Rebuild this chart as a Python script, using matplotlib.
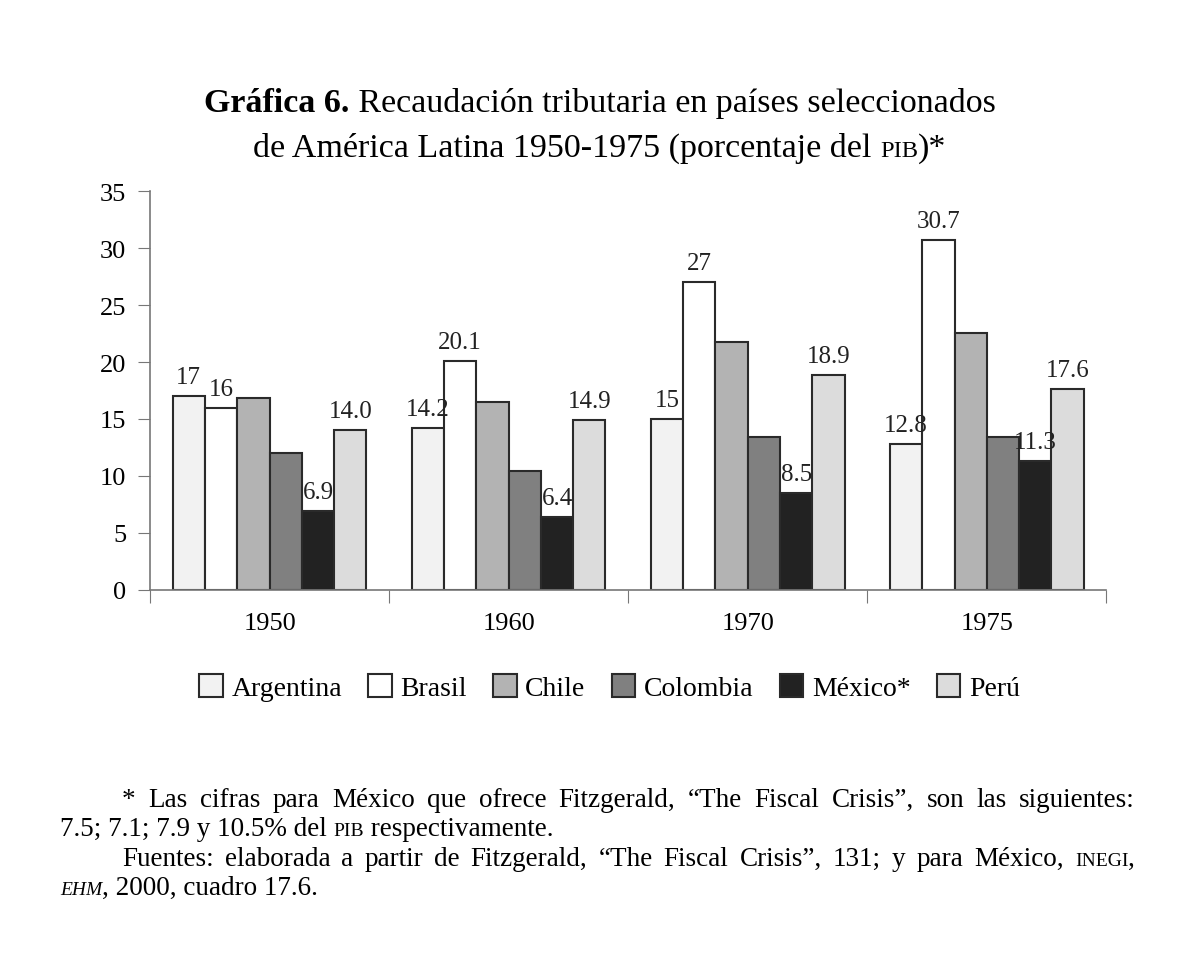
import matplotlib
matplotlib.use("Agg")
import matplotlib.pyplot as plt
import numpy as np

# data
years = ["1950", "1960", "1970", "1975"]
countries = ["Argentina", "Brasil", "Chile", "Colombia", "México*", "Perú"]
argentina = [17.0, 14.2, 15.0, 12.8]
brasil = [16.0, 20.1, 27.0, 30.7]
chile = [16.8, 16.5, 21.8, 22.6]
colombia = [12.0, 10.4, 13.4, 13.4]
mexico = [6.9, 6.4, 8.5, 11.3]
peru = [14.0, 14.9, 18.9, 17.6]
argentina_lbl = ["17", "14.2", "15", "12.8"]
brasil_lbl = ["16", "20.1", "27", "30.7"]
mexico_lbl = ["6.9", "6.4", "8.5", "11.3"]
peru_lbl = ["14.0", "14.9", "18.9", "17.6"]

series = [argentina, brasil, chile, colombia, mexico, peru]
labels = [argentina_lbl, brasil_lbl, None, None, mexico_lbl, peru_lbl]
colors = ["#f2f2f2", "#ffffff", "#b3b3b3", "#808080", "#222222", "#dcdcdc"]

plt.rcParams["font.family"] = ["Liberation Serif", "DejaVu Serif"]
SPINE = "#777777"

fig = plt.figure(figsize=(12, 9.62), dpi=100)
ax = fig.add_axes([0.125, 0.386, 0.797, 0.414])

bw = 0.135
x = np.arange(len(years)) + 0.5
for i, (vals, col) in enumerate(zip(series, colors)):
    pos = x + (i - 2.5) * bw
    bars = ax.bar(pos, vals, width=bw, color=col, edgecolor="#2a2a2a",
                  linewidth=1.5, label=countries[i])
    if labels[i] is not None:
        for b, s in zip(bars, labels[i]):
            ax.text(b.get_x() + b.get_width() / 2, b.get_height() + 0.7, s,
                    ha="center", va="bottom", fontsize=18, color="#222222")

ax.set_xlim(0, 4)
ax.set_ylim(0, 35)
ax.set_yticks(range(0, 36, 5))
ax.set_xticks([0, 1, 2, 3, 4])
ax.set_xticklabels([])
ax.set_xticks(x, minor=True)
ax.set_xticklabels(years, minor=True)
ax.tick_params(axis="x", which="minor", length=0, labelsize=19, pad=16)
ax.tick_params(axis="x", which="major", length=9, color=SPINE, direction="out")
ax.tick_params(axis="y", length=9, color=SPINE, labelsize=19, pad=8)
for s in ["top", "right"]:
    ax.spines[s].set_visible(False)
for s in ["left", "bottom"]:
    ax.spines[s].set_color(SPINE)
    ax.spines[s].set_linewidth(1.2)

leg = fig.legend(loc="center", bbox_to_anchor=(0.508, 0.284), ncol=6,
                 frameon=False, fontsize=20, handlelength=0.85,
                 handleheight=0.9, handletextpad=0.3, columnspacing=0.95)

renderer = fig.canvas.get_renderer()
W = fig.bbox.width


def draw_runs(runs, x0, y0, ha="left"):
    # place pieces of text one after the other on a line
    texts = [fig.text(0, y0, s, va="baseline", **kw) for s, kw in runs]
    widths = [t.get_window_extent(renderer).width / W for t in texts]
    start = x0 - sum(widths) / 2 if ha == "center" else x0
    for t, w in zip(texts, widths):
        t.set_x(start)
        start += w


def justify(words, x0, x1, y0):
    # words: list of lists of (text, kw) pieces, spread evenly from x0 to x1
    groups, gw = [], []
    for word in words:
        ts = [fig.text(0, y0, s, va="baseline", **kw) for s, kw in word]
        ws = [t.get_window_extent(renderer).width / W for t in ts]
        groups.append((ts, ws))
        gw.append(sum(ws))
    gap = (x1 - x0 - sum(gw)) / (len(words) - 1)
    cur = x0
    for (ts, ws), g in zip(groups, gw):
        p = cur
        for t, w in zip(ts, ws):
            t.set_x(p)
            p += w
        cur += g + gap


T = 24.5
draw_runs([("Gráfica 6.", dict(fontsize=T, fontweight="bold")),
           (" Recaudación tributaria en países seleccionados", dict(fontsize=T))],
          0.5, 0.884, ha="center")
draw_runs([("de América Latina 1950-1975 (porcentaje del ", dict(fontsize=T)),
           ("PIB", dict(fontsize=T * 0.72)),
           (")*", dict(fontsize=T))],
          0.5, 0.837, ha="center")

F = 19.5
SC = dict(fontsize=F * 0.72)
N = dict(fontsize=F)


def plain(s):
    return [[(w, N)] for w in s.split()]


justify([[("*", N)]] + plain("Las cifras para México que ofrece Fitzgerald, "
                             "“The Fiscal Crisis”, son las siguientes:"),
        0.1017, 0.946, 0.161)
draw_runs([("7.5; 7.1; 7.9 y 10.5% del ", N), ("PIB", SC),
           (" respectivamente.", N)], 0.050, 0.1305)
justify(plain("Fuentes: elaborada a partir de Fitzgerald, “The Fiscal Crisis”, "
              "131; y para México,") + [[("INEGI", SC), (",", N)]],
        0.1017, 0.946, 0.0995)
draw_runs([("EHM", dict(fontsize=F * 0.72, style="italic")),
           (", 2000, cuadro 17.6.", N)], 0.050, 0.0695)

fig.savefig("out.png", dpi=100)
